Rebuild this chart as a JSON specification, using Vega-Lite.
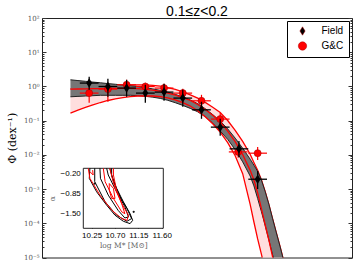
{
  "$schema": "https://vega.github.io/schema/vega-lite/v6.json",
  "autosize": {"type": "none"},
  "padding": {"left": 42, "top": 18, "right": 5, "bottom": 10},
  "width": 310,
  "height": 239.5,
  "background": "white",
  "title": {"text": "0.1≤z<0.2", "font": "Liberation Sans", "fontSize": 14, "fontWeight": "normal", "color": "black", "anchor": "middle", "frame": "group", "offset": 3, "dy": 8},
  "config": {
    "view": {"stroke": "#222", "strokeWidth": 1},
    "font": "Liberation Sans",
    "legend": {"orient": "top-right", "offset": 3, "padding": 5, "strokeColor": "black", "fillColor": "white", "cornerRadius": 0, "labelFont": "Liberation Sans", "labelFontSize": 10, "labelColor": "black", "symbolSize": 70, "symbolOffset": 5.5, "labelOffset": 14, "rowPadding": 3, "symbolStrokeWidth": 0.5}
  },
  "datasets": {
    "curves": [
      {"m": 9.0, "bu": 1.563, "bl": 0.498, "rup": 0.853, "rmid": 0.836, "rlow": 0.166},
      {"m": 9.1, "bu": 1.483, "bl": 0.512, "rup": 0.871, "rmid": 0.841, "rlow": 0.203},
      {"m": 9.2, "bu": 1.413, "bl": 0.525, "rup": 0.894, "rmid": 0.847, "rlow": 0.244},
      {"m": 9.3, "bu": 1.340, "bl": 0.536, "rup": 0.925, "rmid": 0.859, "rlow": 0.288},
      {"m": 9.4, "bu": 1.279, "bl": 0.551, "rup": 0.957, "rmid": 0.865, "rlow": 0.339},
      {"m": 9.5, "bu": 1.211, "bl": 0.551, "rup": 0.996, "rmid": 0.877, "rlow": 0.388},
      {"m": 9.6, "bu": 1.156, "bl": 0.551, "rup": 1.038, "rmid": 0.883, "rlow": 0.432},
      {"m": 9.7, "bu": 1.094, "bl": 0.551, "rup": 1.079, "rmid": 0.883, "rlow": 0.471},
      {"m": 9.8, "bu": 1.045, "bl": 0.551, "rup": 1.102, "rmid": 0.877, "rlow": 0.505},
      {"m": 9.9, "bu": 0.991, "bl": 0.536, "rup": 1.117, "rmid": 0.859, "rlow": 0.525},
      {"m": 10.0, "bu": 0.925, "bl": 0.514, "rup": 1.109, "rmid": 0.824, "rlow": 0.532},
      {"m": 10.1, "bu": 0.847, "bl": 0.484, "rup": 1.072, "rmid": 0.776, "rlow": 0.525},
      {"m": 10.2, "bu": 0.766, "bl": 0.447, "rup": 1.016, "rmid": 0.716, "rlow": 0.501},
      {"m": 10.3, "bu": 0.679, "bl": 0.393, "rup": 0.925, "rmid": 0.638, "rlow": 0.462},
      {"m": 10.4, "bu": 0.585, "bl": 0.334, "rup": 0.815, "rmid": 0.555, "rlow": 0.404},
      {"m": 10.5, "bu": 0.494, "bl": 0.279, "rup": 0.692, "rmid": 0.471, "rlow": 0.337},
      {"m": 10.6, "bu": 0.401, "bl": 0.228, "rup": 0.569, "rmid": 0.391, "rlow": 0.268},
      {"m": 10.7, "bu": 0.313, "bl": 0.181, "rup": 0.453, "rmid": 0.296, "rlow": 0.194},
      {"m": 10.8, "bu": 0.223, "bl": 0.130, "rup": 0.341, "rmid": 0.213, "rlow": 0.130},
      {"m": 10.9, "bu": 0.150, "bl": 0.0845, "rup": 0.247, "rmid": 0.144, "rlow": 0.0807},
      {"m": 11.0, "bu": 0.0975, "bl": 0.0497, "rup": 0.173, "rmid": 0.0912, "rlow": 0.0461},
      {"m": 11.1, "bu": 0.0573, "bl": 0.0284, "rup": 0.101, "rmid": 0.0497, "rlow": 0.0228},
      {"m": 11.2, "bu": 0.0308, "bl": 0.0142, "rup": 0.0518, "rmid": 0.0243, "rlow": 0.0094},
      {"m": 11.3, "bu": 0.0156, "bl": 0.00624, "rup": 0.0247, "rmid": 0.0102, "rlow": 0.00281},
      {"m": 11.4, "bu": 0.00748, "bl": 0.00241, "rup": 0.0104, "rmid": 0.00352, "rlow": 0.000356},
      {"m": 11.45, "bu": 0.00499, "bl": 0.00124, "rup": 0.00598, "rmid": 0.00184, "rlow": 0.000109},
      {"m": 11.5, "bu": 0.00329, "bl": 0.00053, "rup": 0.00354, "rmid": 0.000771, "rlow": 0.000035},
      {"m": 11.55, "bu": 0.00183, "bl": 0.000219, "rup": 0.00187, "rmid": 0.000268, "rlow": 0.0000126},
      {"m": 11.6, "bu": 0.000853, "bl": 0.0000863, "rup": 0.000853, "rmid": 0.0000906, "rlow": 0.00000428},
      {"m": 11.65, "bu": 0.000358, "bl": 0.0000323, "rup": 0.000358, "rmid": 0.0000325, "rlow": 0.0000016},
      {"m": 11.7, "bu": 0.000135, "bl": 0.0000119, "rup": 0.000135, "rmid": 0.0000103, "rlow": 0.0000005},
      {"m": 11.75, "bu": 0.0000525, "bl": 0.00000473, "rup": 0.0000525, "rmid": 0.00000358, "rlow": 0.0000002},
      {"m": 11.8, "bu": 0.0000206, "bl": 0.00000175, "rup": 0.0000206, "rmid": 0.0000012, "rlow": 0.0000001},
      {"m": 11.85, "bu": 0.00000769, "bl": 0.00000065, "rup": 0.00000769, "rmid": 0.0000004, "rlow": 0.00000005},
      {"m": 11.9, "bu": 0.00000301, "bl": 0.00000024, "rup": 0.00000301, "rmid": 0.00000015, "rlow": 0.00000002}
    ],
    "points": [
      {"s": "G&C", "m": 9.25, "phi": 0.638, "lo": 0.332, "hi": 0.912, "mlo": 9.125, "mhi": 9.375},
      {"s": "G&C", "m": 9.5, "phi": 0.836, "lo": 0.356, "hi": 1.279, "mlo": 9.375, "mhi": 9.625},
      {"s": "G&C", "m": 9.75, "phi": 1.117, "lo": 0.652, "hi": 1.563, "mlo": 9.625, "mhi": 9.875},
      {"s": "G&C", "m": 10.0, "phi": 0.995, "lo": 0.569, "hi": 1.279, "mlo": 9.875, "mhi": 10.125},
      {"s": "G&C", "m": 10.25, "phi": 0.895, "lo": 0.652, "hi": 1.194, "mlo": 10.125, "mhi": 10.375},
      {"s": "G&C", "m": 10.5, "phi": 0.638, "lo": 0.466, "hi": 0.853, "mlo": 10.375, "mhi": 10.625},
      {"s": "G&C", "m": 10.75, "phi": 0.380, "lo": 0.254, "hi": 0.569, "mlo": 10.625, "mhi": 10.875},
      {"s": "G&C", "m": 11.0, "phi": 0.111, "lo": 0.0754, "hi": 0.169, "mlo": 10.875, "mhi": 11.125},
      {"s": "G&C", "m": 11.24, "phi": 0.0122, "lo": 0.00817, "hi": 0.0183, "mlo": 11.115, "mhi": 11.365},
      {"s": "G&C", "m": 11.5, "phi": 0.0112, "lo": 0.00713, "hi": 0.0171, "mlo": 11.375, "mhi": 11.625},
      {"s": "Field", "m": 9.25, "phi": 1.253, "lo": 0.798, "hi": 1.914, "mlo": 9.125, "mhi": 9.375},
      {"s": "Field", "m": 9.5, "phi": 0.995, "lo": 0.498, "hi": 1.675, "mlo": 9.375, "mhi": 9.625},
      {"s": "Field", "m": 9.75, "phi": 0.895, "lo": 0.498, "hi": 1.563, "mlo": 9.625, "mhi": 9.875},
      {"s": "Field", "m": 10.0, "phi": 0.638, "lo": 0.332, "hi": 1.117, "mlo": 9.875, "mhi": 10.125},
      {"s": "Field", "m": 10.25, "phi": 0.683, "lo": 0.380, "hi": 1.194, "mlo": 10.125, "mhi": 10.375},
      {"s": "Field", "m": 10.5, "phi": 0.456, "lo": 0.254, "hi": 0.798, "mlo": 10.375, "mhi": 10.625},
      {"s": "Field", "m": 10.75, "phi": 0.207, "lo": 0.113, "hi": 0.356, "mlo": 10.625, "mhi": 10.875},
      {"s": "Field", "m": 11.0, "phi": 0.0646, "lo": 0.036, "hi": 0.113, "mlo": 10.875, "mhi": 11.125},
      {"s": "Field", "m": 11.25, "phi": 0.0150, "lo": 0.00873, "hi": 0.0256, "mlo": 11.125, "mhi": 11.375},
      {"s": "Field", "m": 11.5, "phi": 0.00194, "lo": 0.00101, "hi": 0.0034, "mlo": 11.375, "mhi": 11.625}
    ],
    "contours": [
      {"c": "b1", "k": "black", "i": 0, "lm": 10.217, "al": -0.03},
      {"c": "b1", "k": "black", "i": 1, "lm": 10.205, "al": -0.36},
      {"c": "b1", "k": "black", "i": 2, "lm": 10.346, "al": -0.80},
      {"c": "b1", "k": "black", "i": 3, "lm": 10.539, "al": -1.24},
      {"c": "b1", "k": "black", "i": 4, "lm": 10.70, "al": -1.57},
      {"c": "b1", "k": "black", "i": 5, "lm": 10.861, "al": -1.77},
      {"c": "b1", "k": "black", "i": 6, "lm": 10.99, "al": -1.846},
      {"c": "b1", "k": "black", "i": 7, "lm": 11.04, "al": -1.74},
      {"c": "b1", "k": "black", "i": 8, "lm": 10.99, "al": -1.52},
      {"c": "b1", "k": "black", "i": 9, "lm": 10.861, "al": -1.13},
      {"c": "b1", "k": "black", "i": 10, "lm": 10.732, "al": -0.69},
      {"c": "b1", "k": "black", "i": 11, "lm": 10.635, "al": -0.25},
      {"c": "b1", "k": "black", "i": 12, "lm": 10.635, "al": -0.03},
      {"c": "b3", "k": "black", "i": 0, "lm": 10.31, "al": -0.03},
      {"c": "b3", "k": "black", "i": 1, "lm": 10.31, "al": -0.47},
      {"c": "b3", "k": "black", "i": 2, "lm": 10.51, "al": -1.13},
      {"c": "b3", "k": "black", "i": 3, "lm": 10.73, "al": -1.57},
      {"c": "b3", "k": "black", "i": 4, "lm": 10.93, "al": -1.77},
      {"c": "b3", "k": "black", "i": 5, "lm": 11.02, "al": -1.68},
      {"c": "b3", "k": "black", "i": 6, "lm": 10.93, "al": -1.35},
      {"c": "b3", "k": "black", "i": 7, "lm": 10.80, "al": -0.97},
      {"c": "b3", "k": "black", "i": 8, "lm": 10.67, "al": -0.47},
      {"c": "b3", "k": "black", "i": 9, "lm": 10.60, "al": -0.03},
      {"c": "b2", "k": "black", "i": 0, "lm": 10.41, "al": -0.03},
      {"c": "b2", "k": "black", "i": 1, "lm": 10.42, "al": -0.36},
      {"c": "b2", "k": "black", "i": 2, "lm": 10.57, "al": -0.91},
      {"c": "b2", "k": "black", "i": 3, "lm": 10.76, "al": -1.41},
      {"c": "b2", "k": "black", "i": 4, "lm": 10.89, "al": -1.66},
      {"c": "b2", "k": "black", "i": 5, "lm": 10.96, "al": -1.63},
      {"c": "b2", "k": "black", "i": 6, "lm": 10.89, "al": -1.29},
      {"c": "b2", "k": "black", "i": 7, "lm": 10.73, "al": -0.80},
      {"c": "b2", "k": "black", "i": 8, "lm": 10.57, "al": -0.25},
      {"c": "b2", "k": "black", "i": 9, "lm": 10.54, "al": -0.03},
      {"c": "r1", "k": "red", "i": 0, "lm": 10.185, "al": -0.03},
      {"c": "r1", "k": "red", "i": 1, "lm": 10.217, "al": -0.36},
      {"c": "r1", "k": "red", "i": 2, "lm": 10.41, "al": -0.91},
      {"c": "r1", "k": "red", "i": 3, "lm": 10.635, "al": -1.40},
      {"c": "r1", "k": "red", "i": 4, "lm": 10.83, "al": -1.68},
      {"c": "r1", "k": "red", "i": 5, "lm": 10.93, "al": -1.74},
      {"c": "r1", "k": "red", "i": 6, "lm": 10.96, "al": -1.57},
      {"c": "r1", "k": "red", "i": 7, "lm": 10.83, "al": -1.19},
      {"c": "r1", "k": "red", "i": 8, "lm": 10.73, "al": -0.75},
      {"c": "r1", "k": "red", "i": 9, "lm": 10.67, "al": -0.25},
      {"c": "r1", "k": "red", "i": 10, "lm": 10.67, "al": -0.03},
      {"c": "r2", "k": "red", "i": 0, "lm": 10.475, "al": -0.03},
      {"c": "r2", "k": "red", "i": 1, "lm": 10.51, "al": -0.47},
      {"c": "r2", "k": "red", "i": 2, "lm": 10.67, "al": -1.02},
      {"c": "r2", "k": "red", "i": 3, "lm": 10.83, "al": -1.46},
      {"c": "r2", "k": "red", "i": 4, "lm": 10.89, "al": -1.52},
      {"c": "r2", "k": "red", "i": 5, "lm": 10.83, "al": -1.19},
      {"c": "r2", "k": "red", "i": 6, "lm": 10.70, "al": -0.69},
      {"c": "r2", "k": "red", "i": 7, "lm": 10.60, "al": -0.03},
      {"c": "r3", "k": "red", "i": 0, "lm": 10.59, "al": -0.53},
      {"c": "r3", "k": "red", "i": 1, "lm": 10.67, "al": -0.69},
      {"c": "r3", "k": "red", "i": 2, "lm": 10.70, "al": -1.02},
      {"c": "r3", "k": "red", "i": 3, "lm": 10.635, "al": -1.02},
      {"c": "r3", "k": "red", "i": 4, "lm": 10.59, "al": -0.75},
      {"c": "r3", "k": "red", "i": 5, "lm": 10.59, "al": -0.53},
      {"c": "r4", "k": "red", "i": 0, "lm": 10.217, "al": -0.14},
      {"c": "r4", "k": "red", "i": 1, "lm": 10.28, "al": -0.25},
      {"c": "r4", "k": "red", "i": 2, "lm": 10.27, "al": -0.09}
    ],
    "dots": [
      {"lm": 10.31, "al": -0.53},
      {"lm": 11.06, "al": -1.46}
    ],
    "frame": [
      {"x1": 10.09, "x2": 11.63, "y1": -2.0, "y2": -0.03}
    ]
  },
  "resolve": {"scale": {"x": "independent", "y": "independent"}},
  "layer": [
    {
      "resolve": {"axis": {"y": "independent"}},
      "layer": [
        {
          "data": {"name": "curves"},
          "mark": {"type": "area", "fill": "#ffdede", "clip": true},
          "encoding": {
            "x": {"field": "m", "type": "quantitative", "scale": {"domain": [8.62, 12.76], "nice": false, "zero": false}, "axis": null},
            "y": {"field": "rup", "type": "quantitative", "scale": {"type": "log", "domain": [0.00001, 100], "nice": false},
              "axis": {"orient": "left", "values": [0.00001, 0.0001, 0.001, 0.01, 0.1, 1, 10, 100], "tickSize": -4, "tickColor": "#333", "labelPadding": 7, "domain": false, "grid": false,
                "labelExpr": "datum.value > 50 ? '10²' : datum.value > 5 ? '10¹' : datum.value > 0.5 ? '10⁰' : datum.value > 0.05 ? '10⁻¹' : datum.value > 0.005 ? '10⁻²' : datum.value > 0.0005 ? '10⁻³' : datum.value > 0.00005 ? '10⁻⁴' : '10⁻⁵'",
                "labelFont": "DejaVu Serif", "labelFontSize": 7, "labelColor": "#555",
                "title": "Φ (dex⁻¹)", "titleFont": "DejaVu Serif", "titleFontSize": 11, "titleFontWeight": "normal", "titleColor": "black", "titlePadding": 6}},
            "y2": {"field": "rlow"}
          }
        },
        {
          "data": {"name": "curves"},
          "mark": {"type": "line", "color": "red", "strokeWidth": 1.3, "clip": true},
          "encoding": {
            "x": {"field": "m", "type": "quantitative", "scale": {"domain": [8.62, 12.76], "nice": false, "zero": false}, "axis": null},
            "y": {"field": "rup", "type": "quantitative", "scale": {"type": "log", "domain": [0.00001, 100], "nice": false},
              "axis": {"orient": "left", "values": [0.00002, 0.00003, 0.00004, 0.00005, 0.00006, 0.00007, 0.00008, 0.00009, 0.0002, 0.0003, 0.0004, 0.0005, 0.0006, 0.0007, 0.0008, 0.0009, 0.002, 0.003, 0.004, 0.005, 0.006, 0.007, 0.008, 0.009, 0.02, 0.03, 0.04, 0.05, 0.06, 0.07, 0.08, 0.09, 0.2, 0.3, 0.4, 0.5, 0.6, 0.7, 0.8, 0.9, 2, 3, 4, 5, 6, 7, 8, 9, 20, 30, 40, 50, 60, 70, 80, 90], "tickSize": -2, "tickColor": "#333", "labels": false, "domain": false, "grid": false, "title": null}}
          }
        },
        {
          "data": {"name": "curves"},
          "mark": {"type": "area", "fill": "#767676", "clip": true},
          "encoding": {
            "x": {"field": "m", "type": "quantitative", "scale": {"domain": [8.62, 12.76], "nice": false, "zero": false}, "axis": null},
            "y": {"field": "bu", "type": "quantitative", "scale": {"type": "log", "domain": [0.00001, 100], "nice": false},
              "axis": {"orient": "right", "values": [0.00001, 0.0001, 0.001, 0.01, 0.1, 1, 10, 100], "tickSize": -4, "tickColor": "#333", "labels": false, "domain": false, "grid": false, "title": null}},
            "y2": {"field": "bl"}
          }
        },
        {
          "data": {"name": "curves"},
          "mark": {"type": "line", "color": "#222", "strokeWidth": 1, "clip": true},
          "encoding": {
            "x": {"field": "m", "type": "quantitative", "scale": {"domain": [8.62, 12.76], "nice": false, "zero": false}, "axis": null},
            "y": {"field": "bu", "type": "quantitative", "scale": {"type": "log", "domain": [0.00001, 100], "nice": false},
              "axis": {"orient": "right", "values": [0.00002, 0.00003, 0.00004, 0.00005, 0.00006, 0.00007, 0.00008, 0.00009, 0.0002, 0.0003, 0.0004, 0.0005, 0.0006, 0.0007, 0.0008, 0.0009, 0.002, 0.003, 0.004, 0.005, 0.006, 0.007, 0.008, 0.009, 0.02, 0.03, 0.04, 0.05, 0.06, 0.07, 0.08, 0.09, 0.2, 0.3, 0.4, 0.5, 0.6, 0.7, 0.8, 0.9, 2, 3, 4, 5, 6, 7, 8, 9, 20, 30, 40, 50, 60, 70, 80, 90], "tickSize": -2, "tickColor": "#333", "labels": false, "domain": false, "grid": false, "title": null}}
          }
        },
        {
          "data": {"name": "curves"},
          "mark": {"type": "line", "color": "#222", "strokeWidth": 1, "clip": true},
          "encoding": {
            "x": {"field": "m", "type": "quantitative", "scale": {"domain": [8.62, 12.76], "nice": false, "zero": false}, "axis": null},
            "y": {"field": "bl", "type": "quantitative", "scale": {"type": "log", "domain": [0.00001, 100], "nice": false}, "axis": null}
          }
        },
        {
          "data": {"name": "curves"},
          "mark": {"type": "line", "color": "red", "strokeWidth": 1.3, "clip": true},
          "encoding": {
            "x": {"field": "m", "type": "quantitative", "scale": {"domain": [8.62, 12.76], "nice": false, "zero": false}, "axis": null},
            "y": {"field": "rmid", "type": "quantitative", "scale": {"type": "log", "domain": [0.00001, 100], "nice": false}, "axis": null}
          }
        },
        {
          "data": {"name": "curves"},
          "mark": {"type": "line", "color": "red", "strokeWidth": 1.3, "clip": true},
          "encoding": {
            "x": {"field": "m", "type": "quantitative", "scale": {"domain": [8.62, 12.76], "nice": false, "zero": false}, "axis": null},
            "y": {"field": "rlow", "type": "quantitative", "scale": {"type": "log", "domain": [0.00001, 100], "nice": false}, "axis": null}
          }
        },
        {
          "data": {"name": "points"},
          "transform": [{"filter": "datum.s == 'G&C'"}],
          "mark": {"type": "rule", "color": "red", "strokeWidth": 1.2},
          "encoding": {
            "x": {"field": "m", "type": "quantitative", "scale": {"domain": [8.62, 12.76], "nice": false, "zero": false}, "axis": null},
            "y": {"field": "lo", "type": "quantitative", "scale": {"type": "log", "domain": [0.00001, 100], "nice": false}, "axis": null},
            "y2": {"field": "hi"}
          }
        },
        {
          "data": {"name": "points"},
          "transform": [{"filter": "datum.s == 'G&C'"}],
          "mark": {"type": "rule", "color": "red", "strokeWidth": 1.2},
          "encoding": {
            "x": {"field": "mlo", "type": "quantitative", "scale": {"domain": [8.62, 12.76], "nice": false, "zero": false}, "axis": null},
            "x2": {"field": "mhi"},
            "y": {"field": "phi", "type": "quantitative", "scale": {"type": "log", "domain": [0.00001, 100], "nice": false}, "axis": null}
          }
        },
        {
          "data": {"name": "points"},
          "transform": [{"filter": "datum.s == 'G&C'"}],
          "mark": {"type": "point", "filled": true, "size": 49, "opacity": 1, "stroke": "#b00000", "strokeWidth": 0.6},
          "encoding": {
            "x": {"field": "m", "type": "quantitative", "scale": {"domain": [8.62, 12.76], "nice": false, "zero": false}, "axis": null},
            "y": {"field": "phi", "type": "quantitative", "scale": {"type": "log", "domain": [0.00001, 100], "nice": false}, "axis": null},
            "color": {"field": "s", "type": "nominal", "scale": {"domain": ["Field", "G&C"], "range": ["black", "red"]}, "legend": {"title": null}},
            "shape": {"field": "s", "type": "nominal", "scale": {"domain": ["Field", "G&C"], "range": ["M0,-1L0.62,0L0,1L-0.62,0Z", "circle"]}, "legend": {"title": null}}
          }
        },
        {
          "data": {"name": "points"},
          "transform": [{"filter": "datum.s == 'Field'"}],
          "mark": {"type": "rule", "color": "black", "strokeWidth": 1.3},
          "encoding": {
            "x": {"field": "m", "type": "quantitative", "scale": {"domain": [8.62, 12.76], "nice": false, "zero": false}, "axis": null},
            "y": {"field": "lo", "type": "quantitative", "scale": {"type": "log", "domain": [0.00001, 100], "nice": false}, "axis": null},
            "y2": {"field": "hi"}
          }
        },
        {
          "data": {"name": "points"},
          "transform": [{"filter": "datum.s == 'Field'"}],
          "mark": {"type": "rule", "color": "black", "strokeWidth": 1.3},
          "encoding": {
            "x": {"field": "mlo", "type": "quantitative", "scale": {"domain": [8.62, 12.76], "nice": false, "zero": false}, "axis": null},
            "x2": {"field": "mhi"},
            "y": {"field": "phi", "type": "quantitative", "scale": {"type": "log", "domain": [0.00001, 100], "nice": false}, "axis": null}
          }
        },
        {
          "data": {"name": "points"},
          "transform": [{"filter": "datum.s == 'Field'"}],
          "mark": {"type": "point", "filled": true, "size": 90, "opacity": 1},
          "encoding": {
            "x": {"field": "m", "type": "quantitative", "scale": {"domain": [8.62, 12.76], "nice": false, "zero": false}, "axis": null},
            "y": {"field": "phi", "type": "quantitative", "scale": {"type": "log", "domain": [0.00001, 100], "nice": false}, "axis": null},
            "color": {"field": "s", "type": "nominal", "scale": {"domain": ["Field", "G&C"], "range": ["black", "red"]}, "legend": {"title": null}},
            "shape": {"field": "s", "type": "nominal", "scale": {"domain": ["Field", "G&C"], "range": ["M0,-1L0.62,0L0,1L-0.62,0Z", "circle"]}, "legend": {"title": null}}
          }
        }
      ]
    },
    {
      "layer": [
        {
          "data": {"name": "frame"},
          "mark": {"type": "rect", "fill": "white", "stroke": "#222", "strokeWidth": 1},
          "encoding": {
            "x": {"field": "x1", "type": "quantitative", "scale": {"domain": [10.09, 11.63], "range": [41.3, 121.3], "nice": false, "zero": false},
              "axis": {"orient": "bottom", "offset": -29.2, "values": [10.25, 10.7, 11.15, 11.6], "format": ".2f", "labelFont": "Liberation Sans", "labelFontSize": 8, "labelColor": "black", "labelOverlap": false, "labelFlush": false, "tickSize": -2, "tickColor": "#222", "labelPadding": 5, "domain": false, "grid": false,
                "title": "log M*    [M⊙]", "titleFont": "DejaVu Serif", "titleFontSize": 7.5, "titleFontWeight": "normal", "titleColor": "#666", "titlePadding": 2}},
            "x2": {"field": "x2"},
            "y": {"field": "y1", "type": "quantitative", "scale": {"domain": [-2.0, -0.03], "range": [210.3, 150.3], "nice": false, "zero": false},
              "axis": {"orient": "left", "offset": -41.3, "values": [-0.2, -0.85, -1.5], "format": ".2f", "labelFont": "Liberation Sans", "labelFontSize": 8, "labelColor": "black", "labelOverlap": false, "labelFlush": false, "tickSize": -2, "tickColor": "#222", "labelPadding": 5, "domain": false, "grid": false,
                "title": "α", "titleFont": "DejaVu Serif", "titleFontSize": 8, "titleFontWeight": "normal", "titleColor": "#666", "titlePadding": 4}},
            "y2": {"field": "y2"}
          }
        },
        {
          "data": {"name": "contours"},
          "mark": {"type": "line", "strokeWidth": 1},
          "encoding": {
            "x": {"field": "lm", "type": "quantitative", "scale": {"domain": [10.09, 11.63], "range": [41.3, 121.3], "nice": false, "zero": false}},
            "y": {"field": "al", "type": "quantitative", "scale": {"domain": [-2.0, -0.03], "range": [210.3, 150.3], "nice": false, "zero": false}},
            "detail": {"field": "c"},
            "order": {"field": "i", "type": "quantitative"},
            "stroke": {"field": "k", "type": "nominal", "scale": null}
          }
        },
        {
          "data": {"name": "dots"},
          "mark": {"type": "circle", "size": 5, "color": "#111", "opacity": 1},
          "encoding": {
            "x": {"field": "lm", "type": "quantitative", "scale": {"domain": [10.09, 11.63], "range": [41.3, 121.3], "nice": false, "zero": false}},
            "y": {"field": "al", "type": "quantitative", "scale": {"domain": [-2.0, -0.03], "range": [210.3, 150.3], "nice": false, "zero": false}}
          }
        }
      ]
    }
  ]
}
